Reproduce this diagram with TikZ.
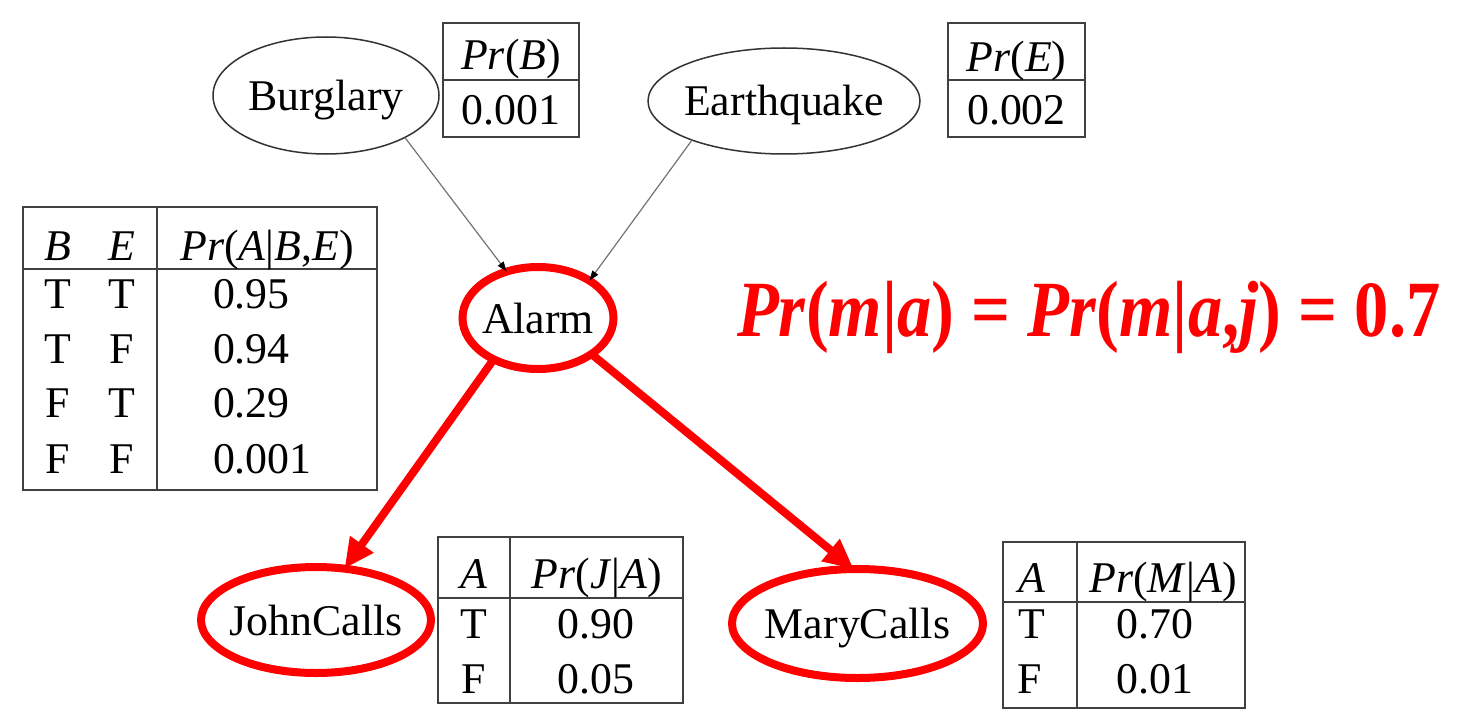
\documentclass[tikz,border=0pt]{standalone}
\usepackage{fontspec}
\setmainfont{Liberation Serif}
\usetikzlibrary{arrows.meta,shapes.geometric}
\begin{document}
\begin{tikzpicture}[x=1bp,y=-1bp,
  every node/.style={font=\fontsize{44}{50}\selectfont, inner sep=0pt, outer sep=0pt},
  var/.style={ellipse, draw=black!80, line width=1.5bp, text height=30bp, text depth=0pt},
  hot/.style={ellipse, draw=red, line width=8bp, text height=30bp, text depth=0pt},
  tab/.style={draw=black!75, line width=1.6bp},
  cell/.style={anchor=base},
  lcell/.style={anchor=base west},
  thinedge/.style={draw=black!55, line width=1.2bp, -{Triangle[length=10bp,width=7bp,color=black]}},
  hotedge/.style={draw=red, line width=8bp, -{Triangle[length=30bp,width=27bp]}}
]
\useasboundingbox (0,0) rectangle (1461,714);

% variable nodes
\node[var, minimum width=226bp, minimum height=117bp] (B) at (326,95.5) {\makebox[0pt]{Burglary}};
\node[var, minimum width=272bp, minimum height=106bp] (E) at (784,101) {\makebox[0pt]{Earthquake}};
\node[hot, minimum width=151bp, minimum height=102bp] (A) at (538,318) {\makebox[0pt]{Alarm}};
\node[hot, minimum width=230bp, minimum height=106bp] (J) at (316,620) {\makebox[0pt]{JohnCalls}};
\node[hot, minimum width=251bp, minimum height=109bp] (M) at (857.5,623.5) {\makebox[0pt]{MaryCalls}};

% edges
\draw[thinedge] (B.-28) -- (A.124);
\draw[thinedge] (E.-157) -- (A.36);
\draw[hotedge] (A.223) -- (J.61);
\draw[hotedge] (A.-34) -- (M.94);

% Pr(B)
\draw[tab] (443,23) rectangle (579,137);
\draw[tab] (443,80) -- (579,80);
\node[cell] (pb1) at (511,70) {\textit{Pr}(\textit{B})};
\node[cell] (pb2) at (511,125) {0.001};

% Pr(E)
\draw[tab] (948,23) rectangle (1085,137);
\draw[tab] (948,80) -- (1085,80);
\node[cell] (pe1) at (1016.5,72) {\textit{Pr}(\textit{E})};
\node[cell] (pe2) at (1016.5,125) {0.002};

% Pr(A|B,E)
\draw[tab] (23,207) rectangle (377,490);
\draw[tab] (157,207) -- (157,490);
\draw[tab] (23,269) -- (377,269);
\node[cell] (ah1) at (58,260) {\textit{B}};
\node[cell] (ah2) at (122,260) {\textit{E}};
\node[cell] (ah3) at (267,260) {\textit{Pr}(\textit{A}|\textit{B},\textit{E})};
\node[cell] (a11) at (58,308) {T};
\node[cell] (a12) at (122,308) {T};
\node[lcell] (a13) at (213,308) {0.95};
\node[cell] (a21) at (58,363) {T};
\node[cell] (a22) at (122,363) {F};
\node[lcell] (a23) at (213,363) {0.94};
\node[cell] (a31) at (58,417) {F};
\node[cell] (a32) at (122,417) {T};
\node[lcell] (a33) at (213,417) {0.29};
\node[cell] (a41) at (58,473) {F};
\node[cell] (a42) at (122,473) {F};
\node[lcell] (a43) at (213,473) {0.001};

% Pr(J|A)
\draw[tab] (438,537) rectangle (683,703);
\draw[tab] (510,537) -- (510,703);
\draw[tab] (438,598) -- (683,598);
\node[cell] (jh1) at (474,588) {\textit{A}};
\node[cell] (jh2) at (597,588) {\textit{Pr}(\textit{J}|\textit{A})};
\node[cell] (j11) at (474,638) {T};
\node[cell] (j12) at (596,638) {0.90};
\node[cell] (j21) at (474,693) {F};
\node[cell] (j22) at (596,693) {0.05};

% Pr(M|A)
\draw[tab] (1003,542) rectangle (1245,708);
\draw[tab] (1077,542) -- (1077,708);
\draw[tab] (1003,602) -- (1245,602);
\node[cell] (mh1) at (1032,592) {\textit{A}};
\node[cell] (mh2) at (1163,592) {\textit{Pr}(\textit{M}|\textit{A})};
\node[cell] (m11) at (1032,638) {T};
\node[cell] (m12) at (1155,638) {0.70};
\node[cell] (m21) at (1030,693) {F};
\node[cell] (m22) at (1155,693) {0.01};

% formula
\node[anchor=base west, text=red, font=\fontsize{80}{90}\selectfont\bfseries] (eq) at (737,336) {\scalebox{0.86}[1]{\textit{Pr}(\textit{m}|\textit{a}) = \textit{Pr}(\textit{m}|\textit{a},\textit{j}) = 0.7}};
\end{tikzpicture}
\end{document}
